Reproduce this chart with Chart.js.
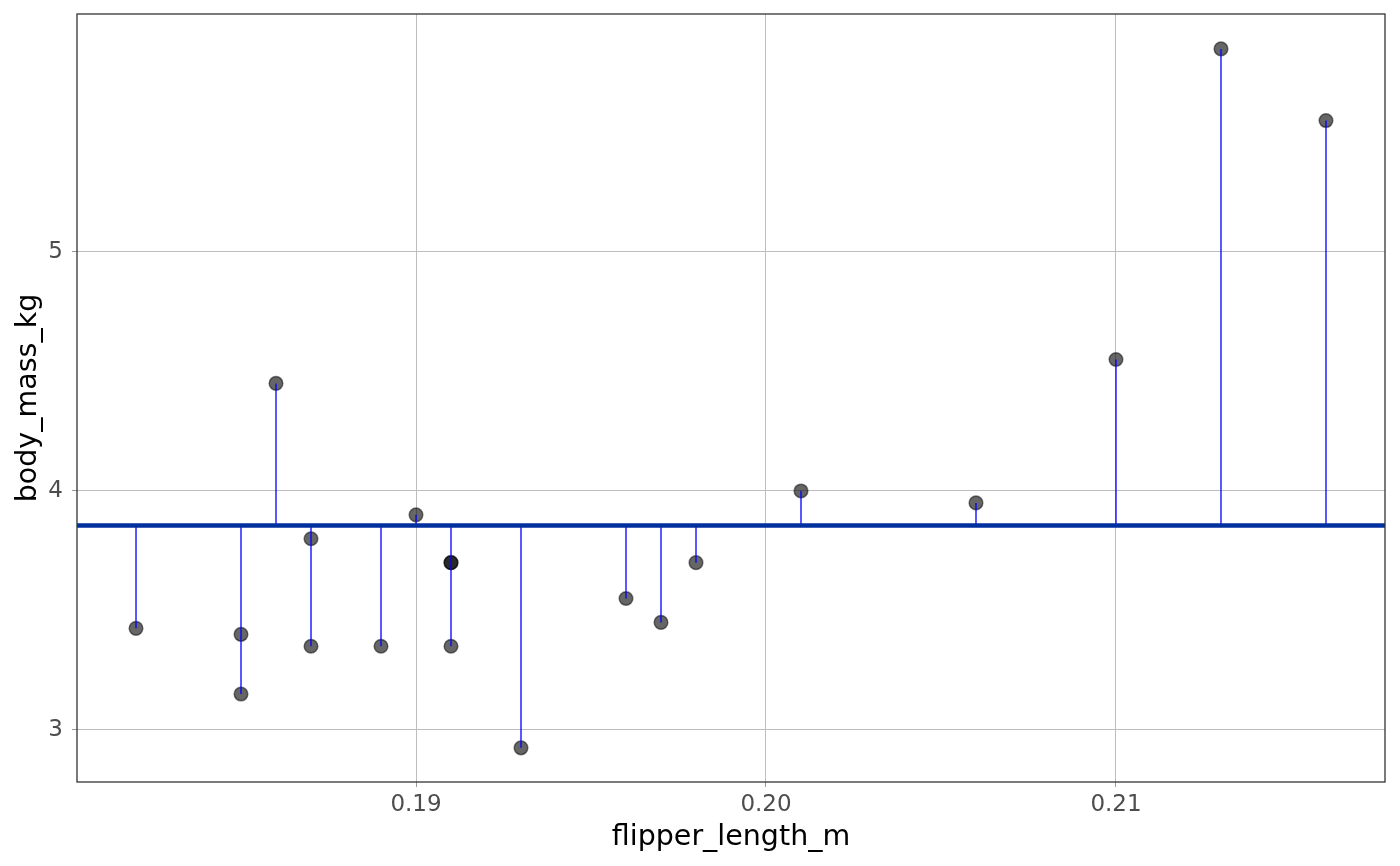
<!DOCTYPE html>
<html>
<head>
<meta charset="utf-8">
<script src="https://cdn.jsdelivr.net/npm/chart.js@4"></script>
<style>
  html, body { margin: 0; padding: 0; background: #fff; }
  #wrap { width: 1400px; height: 866px; }
</style>
</head>
<body>
<div id="wrap"><canvas id="chart"></canvas></div>
<script>
// Data
const flipperLength = [0.182, 0.185, 0.185, 0.186, 0.187, 0.187, 0.189, 0.190, 0.191, 0.191,
                       0.191, 0.193, 0.196, 0.197, 0.198, 0.201, 0.206, 0.210, 0.213, 0.216];
const bodyMass = [3.425, 3.40, 3.15, 4.45, 3.80, 3.35, 3.35, 3.90, 3.70, 3.70,
                  3.35, 2.925, 3.55, 3.45, 3.70, 4.00, 3.95, 4.55, 5.85, 5.55];
const xTicks = [0.19, 0.20, 0.21];
const yTicks = [3, 4, 5];
const xRange = [0.180314, 0.217686];
const yRange = [2.782, 5.996];

const meanMass = bodyMass.reduce((a, b) => a + b, 0) / bodyMass.length;

const points = flipperLength.map((x, i) => ({ x: x, y: bodyMass[i] }));

// segments from the mean line to each point, broken with gaps
const residuals = [];
flipperLength.forEach((x, i) => {
    residuals.push({ x: x, y: meanMass });
    residuals.push({ x: x, y: bodyMass[i] });
    residuals.push({ x: x, y: null });
});

const meanLine = [{ x: xRange[0], y: meanMass }, { x: xRange[1], y: meanMass }];

// panel border like ggplot
const panelBorder = {
    id: "panelBorder",
    afterDatasetsDraw(chart) {
        const a = chart.chartArea;
        const ctx = chart.ctx;
        ctx.save();
        ctx.strokeStyle = "#333333";
        ctx.lineWidth = 1.3;
        ctx.strokeRect(a.left, a.top, a.right - a.left, a.bottom - a.top);
        ctx.restore();
    }
};

const ctx = document.getElementById("chart").getContext("2d");
new Chart(ctx, {
    type: "scatter",
    data: {
        datasets: [
            {
                label: "mean",
                type: "line",
                data: meanLine,
                borderColor: "#002f9e",
                borderWidth: 4.5,
                pointRadius: 0,
                order: 1
            },
            {
                label: "residuals",
                type: "line",
                data: residuals,
                borderColor: "#0000ff",
                borderWidth: 1.3,
                pointRadius: 0,
                spanGaps: false,
                order: 2
            },
            {
                label: "penguins",
                data: points,
                backgroundColor: "rgba(0,0,0,0.6)",
                borderColor: "rgba(0,0,0,0.5)",
                borderWidth: 1.5,
                pointRadius: 6.8,
                order: 3
            }
        ]
    },
    options: {
        responsive: true,
        maintainAspectRatio: false,
        animation: false,
        layout: { padding: { top: 14, right: 15, left: 0, bottom: 0 } },
        plugins: {
            legend: { display: false },
            tooltip: { enabled: false }
        },
        scales: {
            x: {
                type: "linear",
                min: xRange[0],
                max: xRange[1],
                afterBuildTicks(scale) {
                    scale.ticks = xTicks.map(v => ({ value: v }));
                },
                afterFit(scale) {
                    scale.height = 84;
                    scale.paddingLeft = 0;
                    scale.paddingRight = 0;
                },
                ticks: {
                    color: "#4d4d4d",
                    font: { family: "DejaVu Sans", size: 23 },
                    padding: 4,
                    callback: v => v.toFixed(2)
                },
                grid: {
                    color: "#bdbdbd",
                    tickColor: "#999999",
                    tickLength: 5,
                    lineWidth: 1
                },
                border: { display: false },
                title: {
                    display: true,
                    text: "flipper_length_m",
                    color: "#000",
                    font: { family: "DejaVu Sans", size: 28.5 },
                    padding: { top: 11, bottom: 11 }
                }
            },
            y: {
                type: "linear",
                min: yRange[0],
                max: yRange[1],
                afterBuildTicks(scale) {
                    scale.ticks = yTicks.map(v => ({ value: v }));
                },
                afterFit(scale) {
                    scale.width = 77;
                    scale.paddingTop = 0;
                    scale.paddingBottom = 0;
                },
                ticks: {
                    color: "#4d4d4d",
                    font: { family: "DejaVu Sans", size: 23 },
                    padding: 9
                },
                grid: {
                    color: "#bdbdbd",
                    tickColor: "#999999",
                    tickLength: 5,
                    lineWidth: 1
                },
                border: { display: false },
                title: {
                    display: true,
                    text: "body_mass_kg",
                    color: "#000",
                    font: { family: "DejaVu Sans", size: 28.5 },
                    padding: { top: 11, bottom: 11 }
                }
            }
        }
    },
    plugins: [panelBorder]
});
</script>
</body>
</html>
